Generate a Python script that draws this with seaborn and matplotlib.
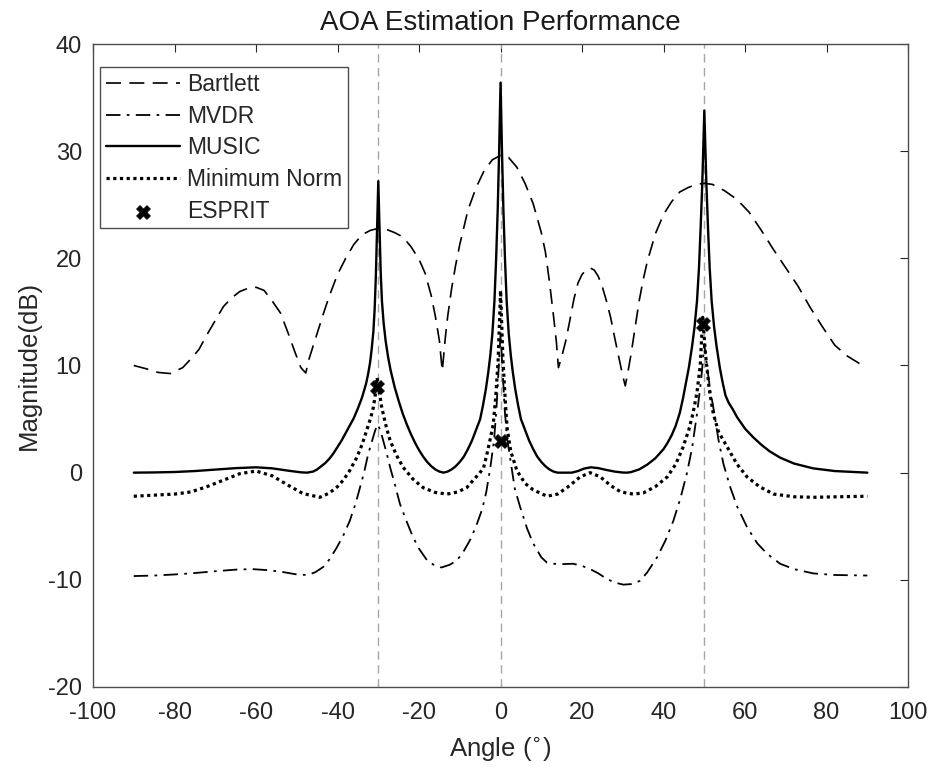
import numpy as np
import pandas as pd
import matplotlib
matplotlib.use("Agg")
import matplotlib.pyplot as plt
import seaborn as sns

# Bartlett spectrum (dB)
bart_ang = [-90, -87, -84, -81, -78, -76, -74, -72, -70, -68, -66, -64, -62, -60, -58, -56, -54, -52,
            -50.5, -49, -47.8, -47, -46, -45, -43.5, -42, -40, -38, -36, -34, -32, -30, -28, -26, -24,
            -22, -20, -18.5, -17, -16, -15, -14.3, -13.5, -13, -12, -11, -10, -8, -6, -4, -2, 0, 1, 2,
            4, 6, 8, 10, 11, 12, 13, 13.7, 14.2, 15, 16, 17, 18, 19, 20, 21, 22, 23, 24, 25, 26, 27,
            28, 29, 30, 30.6, 31.3, 32, 33, 34, 35, 36, 38, 40, 42, 44, 46, 48, 50, 52, 55, 58, 61,
            64, 67, 70, 73, 76, 79, 82, 85, 88, 90]
bart_db = [10.0, 9.7, 9.35, 9.25, 9.8, 10.6, 11.5, 12.9, 14.2, 15.5, 16.3, 16.9, 17.2, 17.3, 17.0, 16.0,
           14.9, 12.9, 11.3, 9.8, 9.3, 10.6, 11.8, 13.0, 14.8, 16.5, 18.5, 20.0, 21.3, 22.2, 22.6, 22.8,
           22.7, 22.4, 22.0, 21.1, 19.9, 18.6, 16.5, 14.6, 12.3, 9.5, 12.8, 14.5, 17.2, 19.4, 21.3, 24.5,
           26.6, 28.2, 29.2, 29.6, 29.6, 29.4, 28.5, 27.0, 25.1, 22.4, 20.6, 17.8, 14.6, 12.2, 9.8, 10.8,
           12.3, 14.2, 16.2, 17.7, 18.5, 18.9, 19.1, 18.9, 18.3, 17.3, 16.0, 14.5, 12.6, 10.8, 9.0, 8.1,
           9.5, 11.0, 13.5, 16.0, 18.0, 19.7, 22.3, 24.1, 25.3, 26.2, 26.6, 26.9, 27.0, 26.9, 26.3, 25.5,
           24.3, 22.6, 20.8, 19.1, 17.4, 15.4, 13.6, 11.9, 10.9, 10.2, 10.0]

# MVDR spectrum (dB)
mvdr_ang = [-90, -85, -80, -76, -70, -65, -61, -57, -53, -50, -47.5, -45.5, -43.5, -42, -40.2, -38.5,
            -37, -35.5, -34.5, -33.5, -32.5, -31.5, -30.8, -30.2, -29.5, -28.8, -28, -27.1, -26, -24.7,
            -23, -21.5, -20, -18, -16, -14.5, -12.5, -10.7, -9, -7.5, -6, -4.5, -3.5, -2.5, -1.6, -1,
            -0.5, 0, 0.5, 1, 1.6, 2.3, 3.5, 4.8, 6.5, 8, 10, 11.4, 14, 17.8, 20, 22, 24, 26, 28, 30.1,
            32, 34.2, 36, 38.4, 40.5, 42.4, 44.2, 45.7, 47, 48.2, 49.2, 50, 50.8, 51.5, 52.2, 53.5,
            54.7, 56.3, 58.1, 60.5, 63, 65.5, 68.6, 72, 76.7, 82, 90]
mvdr_db = [-9.65, -9.6, -9.5, -9.4, -9.2, -9.05, -9.0, -9.1, -9.3, -9.5, -9.55, -9.3, -8.8, -8.1, -7.0,
           -5.8, -4.5, -2.8, -1.4, 0.0, 1.7, 3.0, 3.9, 4.5, 4.0, 3.0, 1.9, 0.5, -1.0, -2.9, -4.6, -6.0,
           -7.1, -8.2, -8.7, -8.85, -8.6, -8.2, -7.3, -6.3, -5.0, -3.4, -1.8, 0.5, 3.0, 6.0, 9.5, 13.0,
           9.5, 6.0, 3.2, 1.5, -1.5, -3.2, -5.2, -6.6, -7.9, -8.4, -8.55, -8.5, -8.7, -9.0, -9.4, -9.9,
           -10.25, -10.45, -10.4, -10.1, -9.3, -7.9, -6.3, -4.5, -2.3, -0.1, 2.3, 5.5, 8.6, 12.0, 9.5,
           7.6, 6.1, 3.0, 0.8, -1.3, -3.2, -5.1, -6.6, -7.6, -8.5, -9.0, -9.4, -9.55, -9.6]

# MUSIC pseudo-spectrum (dB)
music_ang = [-90, -85, -80, -75, -70, -65, -60, -56, -52, -49, -47.5, -46, -45, -44, -43, -42, -41, -40,
             -39, -38, -37, -36, -35, -34, -33, -32.5, -32, -31.6, -31.2, -30.9, -30.6, -30.3, -30,
             -29.7, -29.4, -29.1, -28.7, -28.2, -27.6, -27, -26, -25, -24, -23, -22, -21, -20, -19,
             -18, -17, -16, -15, -14, -13, -12, -11, -10, -9, -8, -7, -6, -5, -4.3, -3.6, -3, -2.5,
             -2, -1.5, -1.1, -0.7, -0.35, 0, 0.35, 0.7, 1.1, 1.5, 2, 2.5, 3, 3.6, 4.3, 5, 6, 7, 8, 9,
             10, 11, 12, 13, 14, 16, 17.5, 19, 20.5, 22.2, 24, 26, 28, 30, 31, 32, 34, 36, 38, 40, 41,
             42, 43, 44, 44.8, 45.5, 46.2, 47, 47.6, 48.2, 48.7, 49.1, 49.5, 50, 50.5, 50.9, 51.3,
             51.8, 52.4, 53, 53.8, 54.5, 55.2, 56, 57, 58, 60, 62, 64, 66, 68.6, 72, 76.7, 82, 90]
music_db = [0.0, 0.02, 0.06, 0.15, 0.28, 0.42, 0.5, 0.4, 0.18, 0.03, 0.0, 0.1, 0.3, 0.6, 0.9, 1.3, 1.8,
            2.4, 3.0, 3.7, 4.4, 5.1, 6.0, 7.0, 8.3, 9.2, 10.3, 11.6, 13.2, 15.2, 18.3, 22.8, 27.2, 22.8,
            18.6, 16.0, 14.0, 12.3, 10.8, 9.6, 8.0, 6.7, 5.5, 4.5, 3.6, 2.8, 2.1, 1.5, 1.0, 0.6, 0.3,
            0.1, 0.0, 0.1, 0.3, 0.6, 1.0, 1.5, 2.2, 3.0, 4.0, 5.0, 6.3, 7.8, 9.4, 11.0, 13.0, 16.0,
            19.8, 24.5, 30.0, 36.4, 30.0, 24.5, 19.8, 16.0, 13.0, 11.0, 9.4, 7.8, 6.3, 5.0, 4.0, 3.0,
            2.2, 1.5, 1.0, 0.6, 0.3, 0.1, 0.0, 0.0, 0.0, 0.15, 0.38, 0.5, 0.42, 0.25, 0.1, 0.01, 0.0,
            0.05, 0.3, 0.75, 1.35, 2.2, 2.8, 3.5, 4.4, 5.6, 7.0, 8.4, 9.8, 11.8, 13.6, 16.0, 19.2,
            22.9, 27.0, 33.8, 27.0, 22.9, 19.2, 16.0, 13.6, 11.8, 9.8, 8.4, 7.2, 6.5, 5.9, 5.2, 4.1,
            3.3, 2.6, 2.0, 1.4, 0.85, 0.4, 0.15, 0.0]

# Minimum Norm pseudo-spectrum (dB)
mnorm_ang = [-90, -85, -80, -76, -72, -68, -64, -60, -56, -52, -48.5, -44.3, -42, -40, -38.6, -37,
             -35.3, -34, -32.8, -31.8, -31.2, -30.6, -30.3, -29.8, -29.2, -28.8, -28, -27.1, -25.5,
             -23.9, -21.5, -19, -16, -13.1, -10.5, -8.3, -6.7, -5.5, -4.2, -3.3, -2.5, -1.8, -1.2,
             -0.6, 0, 0.6, 1.2, 1.6, 2.5, 4, 6, 8, 11.4, 14, 17, 19.5, 22, 24.5, 27, 29.5, 32.5, 35,
             38, 40.9, 43, 44.8, 46.2, 47.2, 48.2, 49, 49.6, 50.3, 51.2, 52.2, 53.5, 55.6, 58, 60.5,
             63.5, 67, 72, 76.7, 83, 90]
mnorm_db = [-2.2, -2.1, -2.0, -1.8, -1.3, -0.7, -0.1, 0.15, -0.3, -1.2, -1.95, -2.3, -1.9, -1.3, -0.7,
            0.2, 1.4, 2.6, 4.0, 5.2, 6.1, 7.6, 8.9, 7.6, 6.2, 5.5, 4.2, 3.0, 1.6, 0.5, -0.6, -1.4,
            -1.85, -2.0, -1.8, -1.4, -0.7, -0.2, 0.4, 1.8, 3.2, 4.5, 7.0, 10.4, 17.0, 10.4, 6.5, 4.2,
            2.0, 0.2, -1.0, -1.6, -2.2, -2.0, -1.2, -0.4, 0.0, -0.4, -1.2, -1.8, -2.0, -1.9, -1.3,
            -0.4, 0.8, 2.4, 4.0, 5.5, 7.5, 10.0, 14.5, 11.0, 7.8, 5.5, 3.8, 2.4, 0.8, -0.4, -1.3,
            -2.0, -2.25, -2.3, -2.25, -2.2]

# ESPRIT estimates
esprit_ang = [-30.2, 0.0, 49.6]
esprit_db = [8.0, 3.0, 13.9]

true_ang = [-30, 0, 50]

sns.set_style("white")
plt.rcParams['font.family'] = ['Liberation Sans', 'DejaVu Sans']
plt.rcParams['axes.unicode_minus'] = False

fig = plt.figure(figsize=(9.31, 7.68), dpi=100)
ax = fig.add_axes([0.0999, 0.1055, 0.8755, 0.8372])

for a in true_ang:
    ax.axvline(a, color='#a6a6a6', lw=1.0, linestyle=(0, (6, 4)), zorder=1)

sns.lineplot(x=bart_ang, y=bart_db, ax=ax, color='k', lw=1.2, linestyle=(0, (9, 5)),
             estimator=None, sort=False, label='Bartlett')
sns.lineplot(x=mvdr_ang, y=mvdr_db, ax=ax, color='k', lw=1.3, linestyle=(0, (8, 3.5, 1.5, 3.5)),
             estimator=None, sort=False, label='MVDR')
sns.lineplot(x=music_ang, y=music_db, ax=ax, color='k', lw=1.7,
             estimator=None, sort=False, label='MUSIC')
sns.lineplot(x=mnorm_ang, y=mnorm_db, ax=ax, color='k', lw=2.3, linestyle=(0, (1, 1.1)),
             estimator=None, sort=False, label='Minimum Norm')
sns.scatterplot(x=esprit_ang, y=esprit_db, ax=ax, color='k', marker='X', s=100,
                edgecolor='k', linewidth=0.5, zorder=5, label='ESPRIT')

ax.set_xlim(-100, 100)
ax.set_ylim(-20, 40)
ax.set_xticks(np.arange(-100, 101, 20))
ax.set_yticks(np.arange(-20, 41, 10))
ax.tick_params(direction='in', length=6, width=0.8, top=True, right=True,
               labelsize=17, colors='#262626')
ax.tick_params(axis='x', pad=11)
ax.tick_params(axis='y', pad=8)
for s in ax.spines.values():
    s.set_color('#4d4d4d')
    s.set_linewidth(1.0)

ax.set_title('AOA Estimation Performance', fontsize=20, color='#1a1a1a', pad=10)
ax.set_xlabel(r'Angle ($^{\circ}$)', fontsize=18.5, color='#262626', labelpad=8)
ax.set_ylabel('Magnitude(dB)', fontsize=18.5, color='#262626', labelpad=5)

leg = ax.legend(loc='upper left', bbox_to_anchor=(0.0086, 0.964), borderaxespad=0,
                fontsize=16.5, handlelength=3.25, handletextpad=0.3, labelspacing=0.38,
                borderpad=0.25, fancybox=False, framealpha=1, edgecolor='#4d4d4d',
                scatterpoints=1)
leg.get_frame().set_linewidth(1.0)

fig.savefig('out.png', dpi=100)
